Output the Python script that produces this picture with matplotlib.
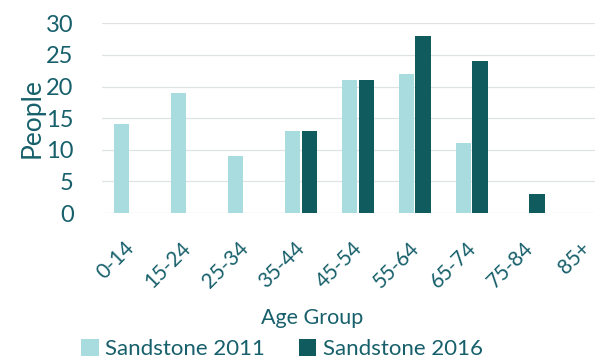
import numpy as np
import matplotlib.pyplot as plt
from matplotlib.transforms import ScaledTranslation

# Sandstone population by age group, census 2011 vs 2016
age_groups = ["0-14", "15-24", "25-34", "35-44", "45-54", "55-64", "65-74", "75-84", "85+"]
people_2011 = [14, 19, 9, 13, 21, 22, 11, 0, 0]
people_2016 = [0, 0, 0, 13, 21, 28, 24, 3, 0]

light = "#a8dcdf"
dark = "#0f5b5e"
txt = "#17606b"

plt.rcParams['font.family'] = ['Lato', 'DejaVu Sans']

fig = plt.figure(figsize=(5.95, 3.62), dpi=100)
ax = fig.add_axes([101.5/595, 149/362, (595-101.5)/595, 189.7/362])

x = np.arange(len(age_groups))
w = 0.265
ax.bar(x - w/2 - 0.01, people_2011, w, color=light, label="Sandstone 2011")
ax.bar(x + w/2 + 0.01, people_2016, w, color=dark, label="Sandstone 2016")

ax.set_ylim(0, 30)
ax.set_xlim(-0.5, 8.16)
ax.set_yticks(range(0, 31, 5))
ax.grid(axis='y', color="#dfe3e5", linewidth=0.9)
ax.set_axisbelow(True)
for s in ax.spines.values():
    s.set_visible(False)

ax.tick_params(axis='y', length=0, pad=20, labelsize=17, labelcolor=txt)
ax.tick_params(axis='x', length=0, pad=18, labelsize=15, labelcolor=txt)
ax.set_xticks(x)
ax.set_xticklabels(age_groups, rotation=45, ha='right', va='top', rotation_mode='anchor')
# nudge the slanted labels left so they end over their group
shift = ScaledTranslation(-6/100, 0, fig.dpi_scale_trans)
for lbl in ax.get_xticklabels():
    lbl.set_transform(lbl.get_transform() + shift)

ax.set_ylabel("People", fontsize=19, color=txt, labelpad=1)
fig.text(312/595, 1 - 318/362, "Age Group", fontsize=15.5, color=txt, ha='center', va='center')

fig.legend(loc='center', bbox_to_anchor=(282/595, 1 - 349/362), ncol=2, frameon=False,
           fontsize=16, labelcolor=txt, handlelength=0.8, handleheight=0.8,
           handletextpad=0.3, columnspacing=1.5, borderpad=0)

fig.savefig("out.png", dpi=100, facecolor="white")
